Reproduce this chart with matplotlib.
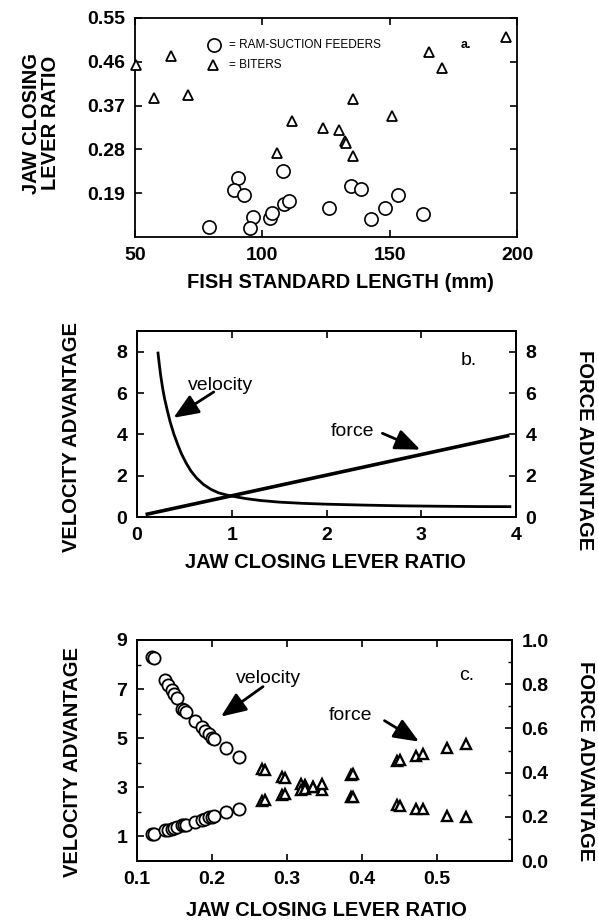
import matplotlib
matplotlib.use('Agg')
import matplotlib.pyplot as plt
from matplotlib.ticker import FixedLocator

plt.rcParams['font.family'] = ['Liberation Sans', 'DejaVu Sans']
plt.rcParams['font.weight'] = 'bold'
plt.rcParams['axes.labelweight'] = 'bold'

# ---------------- Panel a data ----------------
ram_length = [78.9, 90.6, 88.7, 92.8, 96.3, 95.3, 103.1, 103.9, 108.1, 108.7,
              110.5, 126.1, 134.9, 138.7, 142.5, 148.2, 153.4, 163.1]
ram_ratio = [0.121, 0.222, 0.197, 0.187, 0.141, 0.119, 0.140, 0.149, 0.235, 0.168,
             0.175, 0.160, 0.204, 0.199, 0.136, 0.160, 0.187, 0.148]
biter_length = [50.5, 57.3, 64.2, 70.9, 105.7, 111.8, 123.9, 130.2, 132.5, 132.7,
                135.7, 135.7, 151.1, 165.5, 170.5, 195.5]
biter_ratio = [0.453, 0.385, 0.471, 0.392, 0.273, 0.338, 0.324, 0.319, 0.297, 0.294,
               0.384, 0.267, 0.348, 0.481, 0.447, 0.510]

# ---------------- Panel b data ----------------
curve_ratio = [0.22, 0.235, 0.25, 0.27, 0.29, 0.32, 0.35, 0.39, 0.43, 0.47, 0.52,
               0.57, 0.63, 0.70, 0.78, 0.86, 0.95, 1.05, 1.15, 1.30, 1.50, 1.75,
               2.0, 2.4, 2.8, 3.2, 3.6, 3.95]
curve_velocity = [8.0, 7.4, 6.85, 6.25, 5.75, 5.15, 4.6, 4.0, 3.5, 3.05, 2.6,
                  2.22, 1.88, 1.58, 1.34, 1.17, 1.06, 0.97, 0.89, 0.80, 0.72, 0.66,
                  0.62, 0.575, 0.54, 0.52, 0.505, 0.50]
line_ratio = [0.09, 3.93]
line_force = [0.12, 3.95]

# ---------------- Panel c data ----------------
ram_c_ratio = [0.120, 0.122, 0.137, 0.141, 0.146, 0.149, 0.153, 0.160, 0.162, 0.165,
               0.177, 0.186, 0.191, 0.196, 0.200, 0.202, 0.218, 0.236]
ram_c_velocity = [8.30, 8.25, 7.37, 7.16, 6.96, 6.79, 6.63, 6.18, 6.14, 6.08,
                  5.69, 5.45, 5.29, 5.16, 5.02, 4.95, 4.62, 4.24]
ram_c_force = [0.120, 0.122, 0.139, 0.142, 0.147, 0.150, 0.153, 0.161, 0.162, 0.165,
               0.178, 0.187, 0.192, 0.197, 0.201, 0.203, 0.220, 0.236]
biter_c_ratio = [0.267, 0.271, 0.293, 0.297, 0.319, 0.324, 0.335, 0.347, 0.385, 0.388,
                 0.446, 0.450, 0.472, 0.481, 0.513, 0.538]
biter_c_velocity = [3.75, 3.72, 3.44, 3.40, 3.15, 3.09, 3.00, 2.88, 2.61, 2.60,
                    2.28, 2.26, 2.12, 2.12, 1.83, 1.78]
biter_c_force = [0.272, 0.275, 0.299, 0.303, 0.323, 0.326, 0.336, 0.350, 0.390, 0.393,
                 0.451, 0.455, 0.477, 0.483, 0.511, 0.531]

W, H = 598, 923
fig = plt.figure(figsize=(W / 100, H / 100), dpi=100)


def px_axes(l, t, r, b):
    return fig.add_axes([l / W, 1 - b / H, (r - l) / W, (b - t) / H])


TFS = 14
LFS = 14.5


def style(ax, right=True):
    ax.tick_params(axis='both', which='both', direction='in', top=True, right=right,
                   labelsize=TFS, pad=7)
    ax.tick_params(which='major', length=5, width=1.2)
    ax.tick_params(which='minor', length=3, width=1.0)
    for s in ax.spines.values():
        s.set_linewidth(1.3)


# ================= Panel a =================
ax = px_axes(135, 18, 517, 237)
ax.plot(ram_length, ram_ratio, 'o', ms=9.5, mfc='white', mec='black', mew=1.2,
        clip_on=False, zorder=3)
ax.plot(biter_length, biter_ratio, '^', ms=7.5, mfc='white', mec='black', mew=1.3,
        clip_on=False, zorder=3)
ax.set_xlim(50, 200)
ax.set_ylim(0.10, 0.55)
ax.set_xticks([50, 100, 150, 200])
ax.set_yticks([0.19, 0.28, 0.37, 0.46, 0.55])
ax.set_yticklabels(['0.19', '0.28', '0.37', '0.46', '0.55'])
style(ax)
ax.set_xlabel('FISH STANDARD LENGTH (mm)', fontsize=LFS)
ax.xaxis.set_label_coords(0.537, -0.21)
ax.xaxis.label.set_va('center')
ax.set_ylabel('JAW CLOSING\nLEVER RATIO', fontsize=LFS, linespacing=1.0)
ax.yaxis.set_label_coords(-0.245, 0.52)
ax.yaxis.label.set_va('center')
# legend drawn as in the original
ax.plot([81.0], [0.495], 'o', ms=9.5, mfc='white', mec='black', mew=1.2)
ax.plot([80.5], [0.453], '^', ms=7.5, mfc='white', mec='black', mew=1.3)
ax.text(87.0, 0.495, '= RAM-SUCTION FEEDERS', fontsize=8.5, fontweight='normal',
        va='center', ha='left')
ax.text(87.0, 0.453, '= BITERS', fontsize=8.5, fontweight='normal',
        va='center', ha='left')
ax.text(180, 0.495, 'a.', fontsize=9, fontweight='bold', va='center', ha='center')

# ================= Panel b =================
bx = px_axes(137, 331, 516, 517)
bx.plot(curve_ratio, curve_velocity, '-', color='black', lw=2.0, solid_capstyle='butt',
        solid_joinstyle='round')
bx.plot(line_ratio, line_force, '-', color='black', lw=2.6, solid_capstyle='butt')
bx.set_xlim(0, 4)
bx.set_ylim(0, 9)
bx.set_xticks([0, 1, 2, 3, 4])
bx.set_yticks([0, 2, 4, 6, 8])
style(bx, right=False)
bx.set_xlabel('JAW CLOSING LEVER RATIO', fontsize=LFS)
bx.xaxis.set_label_coords(0.496, -0.247)
bx.xaxis.label.set_va('center')
bx.set_ylabel('VELOCITY ADVANTAGE', fontsize=LFS)
bx.yaxis.set_label_coords(-0.174, 0.43)
bx.yaxis.label.set_va('center')
bx2 = bx.twinx()
bx2.set_ylim(0, 9)
bx2.set_yticks([0, 2, 4, 6, 8])
bx2.tick_params(axis='y', direction='in', labelsize=TFS, pad=7, length=5, width=1.2)
bx2.set_ylabel('FORCE ADVANTAGE', fontsize=LFS, rotation=270)
bx2.yaxis.set_label_coords(1.182, 0.36)
bx2.yaxis.label.set_va('center')
for s in bx2.spines.values():
    s.set_linewidth(1.3)
arrow = dict(arrowstyle='-|>,head_length=0.85,head_width=0.35', color='black', lw=2.0,
             shrinkA=0, shrinkB=0, mutation_scale=18)
bx.annotate('', xy=(0.385, 4.80), xytext=(0.81, 6.05), arrowprops=arrow)
bx.text(0.885, 6.35, 'velocity', fontsize=14, fontweight='normal', ha='center', va='center')
bx.annotate('', xy=(2.99, 3.26), xytext=(2.59, 4.05), arrowprops=arrow)
bx.text(2.27, 4.15, 'force', fontsize=14, fontweight='normal', ha='center', va='center')
bx.text(3.5, 7.55, 'b.', fontsize=14, fontweight='normal', ha='center', va='center')

# ================= Panel c =================
cx = px_axes(137, 640, 512, 861)
cx.plot(ram_c_ratio, ram_c_velocity, 'o', ms=8.8, mfc='white', mec='black', mew=1.3,
        clip_on=False, zorder=3)
cx.plot(biter_c_ratio, biter_c_velocity, '^', ms=7, mfc='white', mec='black', mew=1.7,
        clip_on=False, zorder=3)
cx.set_xlim(0.1, 0.6)
cx.set_ylim(0, 9)
cx.set_xticks([0.1, 0.2, 0.3, 0.4, 0.5])
cx.set_xticklabels(['0.1', '0.2', '0.3', '0.4', '0.5'])
cx.set_yticks([1, 3, 5, 7, 9])
cx.yaxis.set_minor_locator(FixedLocator([2, 4, 6, 8]))
style(cx, right=False)
cx.set_xlabel('JAW CLOSING LEVER RATIO', fontsize=LFS)
cx.xaxis.set_label_coords(0.504, -0.222)
cx.xaxis.label.set_va('center')
cx.set_ylabel('VELOCITY ADVANTAGE', fontsize=LFS)
cx.yaxis.set_label_coords(-0.173, 0.45)
cx.yaxis.label.set_va('center')
cx2 = cx.twinx()
cx2.plot(ram_c_ratio, ram_c_force, 'o', ms=8.8, mfc='white', mec='black', mew=1.3,
         clip_on=False, zorder=3)
cx2.plot(biter_c_ratio, biter_c_force, '^', ms=7, mfc='white', mec='black', mew=1.7,
         clip_on=False, zorder=3)
cx2.set_ylim(0, 1.0)
cx2.set_yticks([0.0, 0.2, 0.4, 0.6, 0.8, 1.0])
cx2.set_yticklabels(['0.0', '0.2', '0.4', '0.6', '0.8', '1.0'])
cx2.yaxis.set_minor_locator(FixedLocator([0.1, 0.3, 0.5, 0.7, 0.9]))
cx2.tick_params(axis='y', which='both', direction='in', labelsize=TFS, pad=7)
cx2.tick_params(axis='y', which='major', length=5, width=1.2)
cx2.tick_params(axis='y', which='minor', length=3, width=1.0)
cx2.set_ylabel('FORCE ADVANTAGE', fontsize=LFS, rotation=270)
cx2.yaxis.set_label_coords(1.195, 0.45)
cx2.yaxis.label.set_va('center')
for s in cx2.spines.values():
    s.set_linewidth(1.3)
cx.annotate('', xy=(0.212, 5.88), xytext=(0.268, 7.10), arrowprops=arrow)
cx.text(0.275, 7.45, 'velocity', fontsize=14, fontweight='normal', ha='center', va='center')
cx2.annotate('', xy=(0.476, 0.54), xytext=(0.430, 0.635), arrowprops=arrow)
cx2.text(0.385, 0.66, 'force', fontsize=14, fontweight='normal', ha='center', va='center')
cx.text(0.54, 7.55, 'c.', fontsize=14, fontweight='normal', ha='center', va='center')

fig.savefig('out.png', dpi=100)
